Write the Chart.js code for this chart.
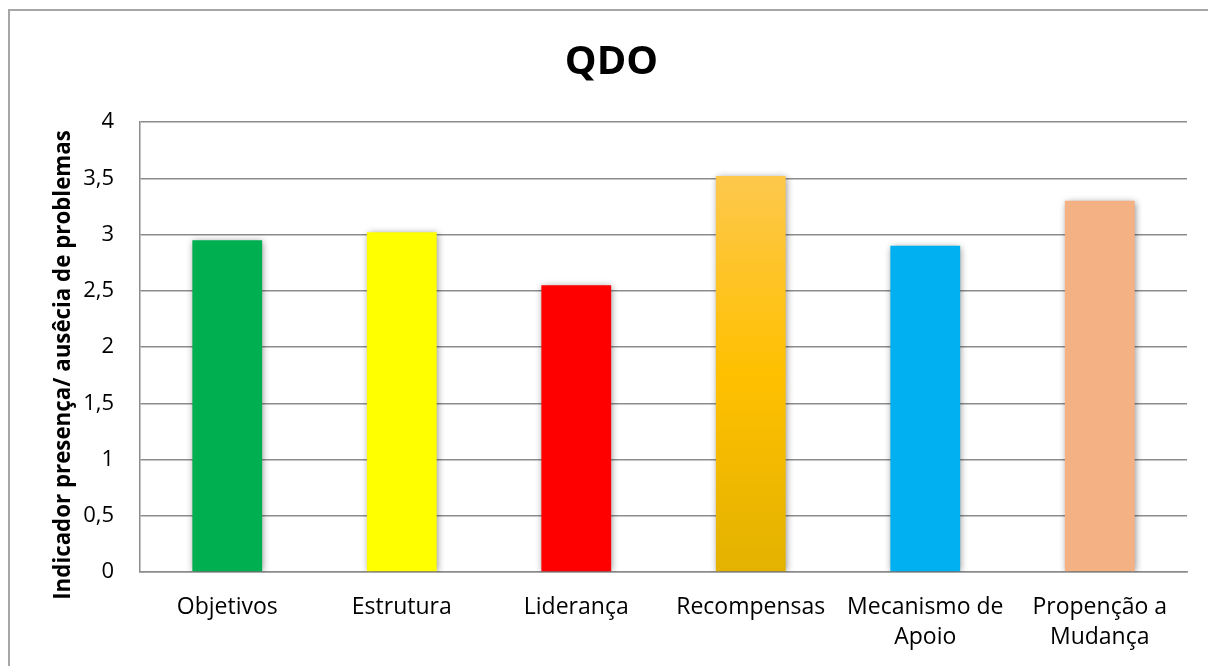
<!DOCTYPE html>
<html>
<head>
<meta charset="utf-8">
<script src="https://cdn.jsdelivr.net/npm/chart.js@4.4.1/dist/chart.umd.min.js"></script>
<style>
  html, body { margin: 0; padding: 0; background: #fff; }
  #wrap { position: relative; width: 1208px; height: 666px; overflow: hidden; }
  #frame { position: absolute; left: 8px; top: 9px; width: 1300px; height: 800px;
           border: 2px solid #a6a6a6; box-sizing: border-box; pointer-events: none; }
  canvas { position: absolute; left: 0; top: 0; }
</style>
</head>
<body>
<div id="wrap">
  <canvas id="c" width="1208" height="666"></canvas>
  <div id="frame"></div>
</div>
<script>
// Categories (multi-line ones are split into lines)
const categories = [
  'Objetivos',
  'Estrutura',
  'Liderança',
  'Recompensas',
  ['Mecanismo de', 'Apoio'],
  ['Propenção a', 'Mudança']
];
// Indicator value per category
const values = [2.95, 3.02, 2.55, 3.52, 2.9, 3.3];
// Bar fill per category ('gradient' = vertical gold gradient)
const barColors = ['#00B050', '#FFFF00', '#FF0000', 'gradient', '#00B0F0', '#F4B183'];
const yTicks = [0, 0.5, 1, 1.5, 2, 2.5, 3, 3.5, 4];

const chartTitle = 'QDO';
const yTitle = 'Indicador presença/ ausêcia de problemas';

const FONT = '"Open Sans", "Liberation Sans", sans-serif';

function fillFor(ctx) {
  const c = barColors[ctx.dataIndex];
  if (c !== 'gradient') return c;
  const chart = ctx.chart;
  const area = chart.chartArea;
  const ys = chart.scales && chart.scales.y;
  if (!area || !ys) return '#FFC000';
  const top = ys.getPixelForValue(values[ctx.dataIndex]);
  const bottom = ys.getPixelForValue(0);
  if (!isFinite(top) || !isFinite(bottom) || top === bottom) return '#FFC000';
  const g = chart.ctx.createLinearGradient(0, top, 0, bottom);
  g.addColorStop(0, '#FDC84C');
  g.addColorStop(0.5, '#FFC000');
  g.addColorStop(1, '#E3B200');
  return g;
}

// Soft drop shadow behind the bars
const barShadow = {
  id: 'barShadow',
  beforeDatasetsDraw(chart) {
    const ctx = chart.ctx;
    ctx.save();
    ctx.shadowColor = 'rgba(0,0,0,0.45)';
    ctx.shadowBlur = 7;
    ctx.shadowOffsetX = 1;
    ctx.shadowOffsetY = 1;
  },
  afterDatasetsDraw(chart) {
    chart.ctx.restore();
  }
};

// Rotated y-axis caption
const yCaption = {
  id: 'yCaption',
  afterDraw(chart) {
    const ctx = chart.ctx;
    ctx.save();
    ctx.translate(64, 365);
    ctx.rotate(-Math.PI / 2);
    ctx.font = 'bold 22.3px ' + FONT;
    ctx.fillStyle = '#000';
    ctx.textAlign = 'center';
    ctx.textBaseline = 'middle';
    ctx.fillText(yTitle, 0, 0);
    ctx.restore();
  }
};

new Chart(document.getElementById('c'), {
  type: 'bar',
  data: {
    labels: categories,
    datasets: [{
      data: values,
      backgroundColor: fillFor,
      borderWidth: 0,
      barPercentage: 0.4,
      categoryPercentage: 1.0
    }]
  },
  plugins: [barShadow, yCaption],
  options: {
    responsive: false,
    animation: false,
    events: [],
    layout: { padding: { left: 36, right: 21, top: 39, bottom: 0 } },
    plugins: {
      legend: { display: false },
      tooltip: { enabled: false },
      title: {
        display: true,
        text: chartTitle,
        color: '#000',
        font: { family: FONT, size: 40, weight: 'bold', lineHeight: 1.2 },
        padding: { top: 0, bottom: 35 }
      }
    },
    scales: {
      x: {
        grid: { display: false },
        border: { display: true, color: '#8c8c8c', width: 1.5 },
        ticks: {
          color: '#000',
          font: { family: FONT, size: 23, lineHeight: 1.3 },
          padding: 13,
          maxRotation: 0,
          autoSkip: false
        },
        afterFit(scale) { scale.height = 94; }
      },
      y: {
        min: 0,
        max: 4,
        afterBuildTicks(scale) { scale.ticks = yTicks.map(v => ({ value: v })); },
        grid: { color: '#8c8c8c', lineWidth: 1.5, drawTicks: false },
        border: { display: true, color: '#8c8c8c', width: 1.5 },
        ticks: {
          color: '#000',
          font: { family: FONT, size: 22 },
          padding: 26,
          callback: v => String(v).replace('.', ',')
        },
        afterFit(scale) { scale.width = 104; }
      }
    }
  }
});
</script>
</body>
</html>
